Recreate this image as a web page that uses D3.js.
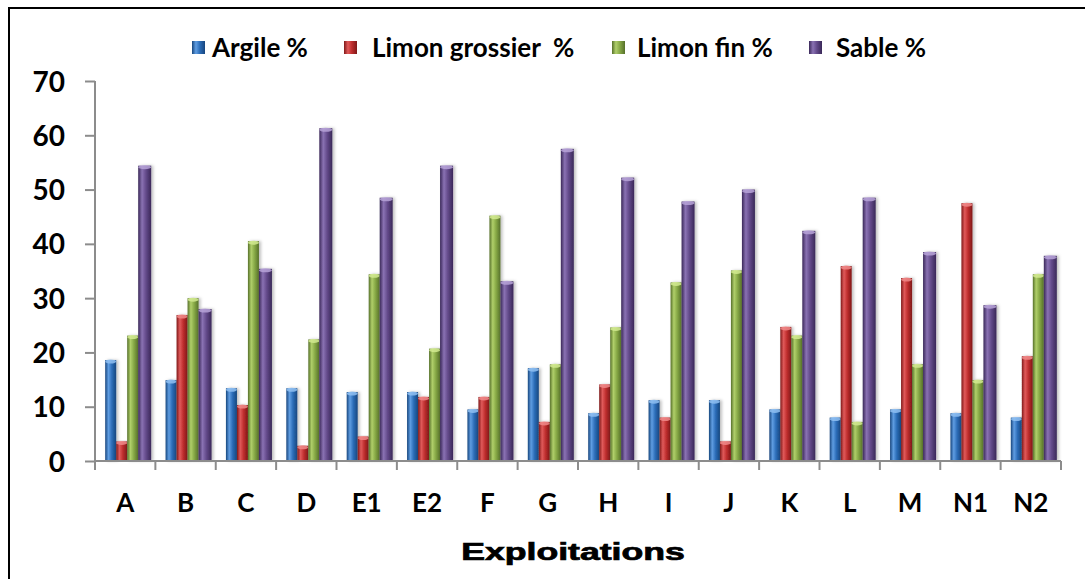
<!DOCTYPE html>
<html>
<head>
<meta charset="utf-8">
<script src="https://cdn.jsdelivr.net/npm/d3@7"></script>
<style>
  html, body { margin: 0; padding: 0; background: #fff; }
  svg { display: block; }
  .tick-label { font-family: Lato, "Open Sans", sans-serif; font-weight: 700; fill: #000; }
</style>
</head>
<body>
<svg id="chart" width="1085" height="579"></svg>
<script>
// Sites (exploitations) and soil texture fractions, in %
const categories = ["A", "B", "C", "D", "E1", "E2", "F", "G", "H", "I", "J", "K", "L", "M", "N1", "N2"];
const seriesNames = ["Argile %", "Limon grossier  %", "Limon fin %", "Sable %"];
const argile        = [18.6, 14.9, 13.4, 13.4, 12.7, 12.7,  9.5, 17.1,  8.8, 11.2, 11.2,  9.5,  8.0,  9.5,  8.8,  8.0];
const limonGrossier = [ 3.6, 26.9, 10.3,  2.8,  4.5, 11.8, 11.8,  7.2, 14.1,  8.0,  3.6, 24.7, 35.9, 33.7, 47.5, 19.3];
const limonFin      = [23.1, 30.0, 40.5, 22.4, 34.4, 20.7, 45.2, 17.8, 24.6, 32.9, 35.1, 23.1,  7.2, 17.8, 14.9, 34.4];
const sable         = [54.4, 28.0, 35.4, 61.3, 48.5, 54.4, 33.1, 57.5, 52.2, 47.8, 50.0, 42.4, 48.5, 38.5, 28.7, 37.8];
const yTicks = [0, 10, 20, 30, 40, 50, 60, 70];
const xTitle = "Exploitations";

const seriesValues = [argile, limonGrossier, limonFin, sable];

// cylinder-like shading: dark edge, light highlight, base, dark edge
const palettes = [
  { dark: "#17467e", base: "#2c6db8", light: "#5f9de2", cap: "#8fc0f2" },
  { dark: "#7f1818", base: "#bf2e2e", light: "#e05a5a", cap: "#f08a8a" },
  { dark: "#56702a", base: "#87a946", light: "#b0cf6a", cap: "#d2ea90" },
  { dark: "#3a2858", base: "#634a8a", light: "#8a72b3", cap: "#b7a3d8" }
];

const svg = d3.select("#chart");
const defs = svg.append("defs");

palettes.forEach((p, i) => {
  const g = defs.append("linearGradient")
    .attr("id", "cyl" + i).attr("x1", "0").attr("x2", "1").attr("y1", "0").attr("y2", "0");
  g.append("stop").attr("offset", "0%").attr("stop-color", p.dark);
  g.append("stop").attr("offset", "30%").attr("stop-color", p.light);
  g.append("stop").attr("offset", "60%").attr("stop-color", p.base);
  g.append("stop").attr("offset", "100%").attr("stop-color", p.dark);
});

const shadow = defs.append("filter").attr("id", "shadow")
  .attr("x", "-50%").attr("y", "-5%").attr("width", "200%").attr("height", "110%");
shadow.append("feDropShadow").attr("dx", 2).attr("dy", 0).attr("stdDeviation", 1.5)
  .attr("flood-color", "#000").attr("flood-opacity", 0.25);

// outer frame of the chart area
svg.append("rect")
  .attr("x", 9).attr("y", 8).attr("width", 1100).attr("height", 600)
  .attr("fill", "none").attr("stroke", "#000").attr("stroke-width", 2);

const plotLeft = 95, plotRight = 1061, plotTop = 81, plotBottom = 461;

const x0 = d3.scaleBand().domain(categories).range([plotLeft, plotRight]).padding(0);
const barW = 11;
const innerPad = (x0.bandwidth() - barW * 4) / 2 / barW;
const x1 = d3.scaleBand().domain(d3.range(4)).range([0, x0.bandwidth()])
  .paddingInner(0).paddingOuter(innerPad);
const y = d3.scaleLinear().domain([0, 70]).range([plotBottom, plotTop]);

// bars
const groups = svg.append("g").selectAll("g")
  .data(categories)
  .join("g")
  .attr("transform", d => `translate(${x0(d) + 2},0)`);

groups.each(function (cat, ci) {
  const g = d3.select(this);
  seriesValues.forEach((vals, si) => {
    const v = vals[ci];
    const bx = x1(si);
    const w = x1.bandwidth() + (si === 3 ? 2 : 0);
    g.append("rect")
      .attr("x", bx).attr("y", y(v))
      .attr("width", w).attr("height", y(0) - y(v))
      .attr("fill", `url(#cyl${si})`)
      .attr("filter", "url(#shadow)");
    g.append("ellipse")
      .attr("cx", bx + w / 2).attr("cy", y(v) + 1.5)
      .attr("rx", w / 2).attr("ry", 2)
      .attr("fill", palettes[si].cap).attr("opacity", 0.85);
  });
});

// y axis
const yAxis = svg.append("g").attr("transform", `translate(${plotLeft},0)`)
  .call(d3.axisLeft(y).tickValues(yTicks).tickSize(10).tickPadding(20).tickFormat(d3.format("d")));
yAxis.select(".domain").attr("stroke", "#8c8c8c").attr("stroke-width", 2)
  .attr("d", `M0,${plotTop}V${plotBottom}`);
yAxis.selectAll(".tick line").attr("stroke", "#8c8c8c").attr("stroke-width", 2);
yAxis.selectAll(".tick text").attr("class", "tick-label")
  .style("font-size", "28px").attr("dy", "0.36em");

// x axis: ticks at category boundaries
const xAxis = svg.append("g").attr("transform", `translate(0,${plotBottom})`);
xAxis.append("line").attr("x1", plotLeft).attr("x2", plotRight)
  .attr("stroke", "#8c8c8c").attr("stroke-width", 2);
xAxis.selectAll("line.b")
  .data(categories.concat(["end"]))
  .join("line").attr("class", "b")
  .attr("x1", (d, i) => i < categories.length ? x0(d) : plotRight)
  .attr("x2", (d, i) => i < categories.length ? x0(d) : plotRight)
  .attr("y1", 0).attr("y2", 9)
  .attr("stroke", "#8c8c8c").attr("stroke-width", 2);
xAxis.selectAll("text")
  .data(categories)
  .join("text")
  .attr("class", "tick-label")
  .attr("x", d => x0(d) + x0.bandwidth() / 2)
  .attr("y", 51)
  .attr("text-anchor", "middle")
  .style("font-size", "26px")
  .text(d => d);

// axis title
svg.append("text")
  .attr("transform", "translate(573,560) scale(1.55,1)")
  .attr("text-anchor", "middle")
  .style("font-family", "'Liberation Sans', Arial, sans-serif")
  .style("font-weight", 700)
  .style("font-size", "23px")
  .attr("stroke", "#000").attr("stroke-width", 0.7)
  .text(xTitle);

// legend
const legendSwatchX = [192, 344, 612, 809];
const legendTextX = [212, 372, 637, 836];
const legend = svg.append("g").selectAll("g")
  .data(seriesNames)
  .join("g");
legend.append("rect")
  .attr("x", (d, i) => legendSwatchX[i]).attr("y", 41)
  .attr("width", 13).attr("height", 13)
  .attr("fill", (d, i) => `url(#cyl${i})`);
legend.append("text")
  .attr("x", (d, i) => legendTextX[i]).attr("y", 57)
  .attr("xml:space", "preserve")
  .style("white-space", "pre")
  .style("font-family", "Lato, sans-serif").style("font-weight", 700)
  .style("font-size", "26px")
  .text(d => d);
</script>
</body>
</html>
